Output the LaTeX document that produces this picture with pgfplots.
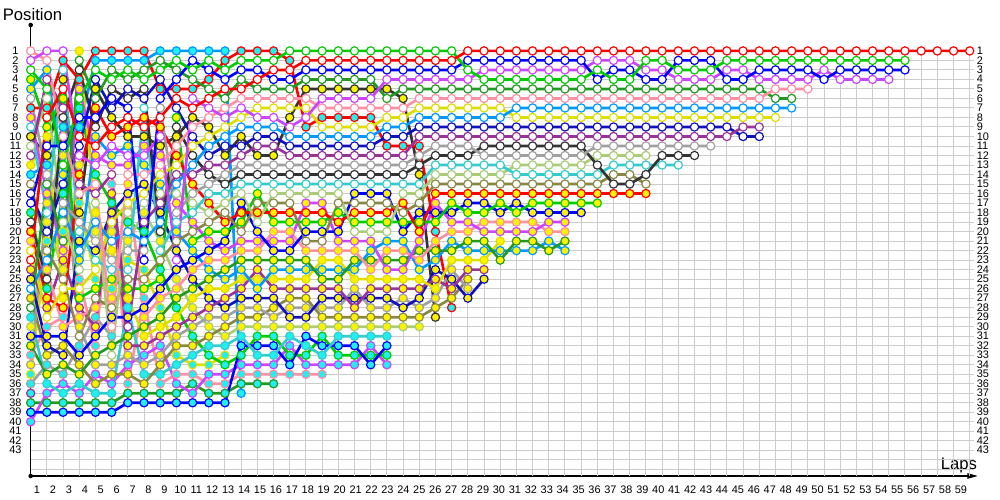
\documentclass[border=0pt]{standalone}
\usepackage{fontspec}
\setmainfont{Liberation Sans}
\usepackage{pgfplots}
\usepackage{pgfplotstable}
\pgfplotsset{compat=1.18}
\usetikzlibrary{arrows.meta}

\definecolor{cR}{HTML}{FF0000}
\definecolor{cG}{HTML}{00CC00}
\definecolor{cB}{HTML}{0000FF}
\definecolor{cV}{HTML}{CC44FF}
\definecolor{cP}{HTML}{FF8FA3}
\definecolor{cDG}{HTML}{229922}
\definecolor{cLB}{HTML}{0099FF}
\definecolor{cY}{HTML}{DDDD00}
\definecolor{cPU}{HTML}{993399}
\definecolor{cDB}{HTML}{1111BB}
\definecolor{cGR}{HTML}{A0A0A0}
\definecolor{cK}{HTML}{333333}
\definecolor{cT}{HTML}{33CCCC}
\definecolor{cLG}{HTML}{AACC77}
\definecolor{cOL}{HTML}{888844}
\definecolor{fW}{HTML}{FFFFFF}
\definecolor{fY}{HTML}{FFF200}
\definecolor{fC}{HTML}{22EEEE}
\definecolor{gridgray}{HTML}{CCCCCC}

\pgfplotstableread{
lap d1 d2 d3 d4 d5 d6 d7 d8 d9 d10 d11 d12 d13 d14 d15 d16 d17 d18 d19 d20 d21 d22 d23 d24 d25 d26 d27 d28 d29 d30 d31 d32 d33 d34 d35 d36 d37 d38 d39 d40
1 23 3 17 2 1 28 26 22 12 16 6 19 9 11 15 20 4 31 8 21 32 5 13 24 25 34 27 7 10 30 29 39 18 40 33 38 14 35 36 37
2 8 5 11 1 2 15 23 29 4 20 14 25 18 6 22 27 9 31 16 24 35 3 10 28 32 17 33 7 12 19 36 39 26 37 30 38 13 21 34 nan
3 5 13 11 1 10 21 18 26 7 15 17 8 3 19 25 28 6 31 22 30 34 14 27 23 33 12 32 2 4 24 37 39 16 36 29 38 9 20 35 nan
4 10 6 8 12 16 2 22 26 15 11 19 3 20 24 31 14 27 33 5 29 35 23 1 28 21 30 34 4 18 13 36 39 7 37 25 38 9 17 32 nan
5 11 3 8 13 15 6 19 24 16 4 21 9 23 17 27 7 26 31 12 28 33 10 18 30 22 34 36 1 5 20 37 39 14 35 32 38 2 25 29 nan
6 9 4 6 11 30 3 21 19 14 7 23 5 24 33 28 10 25 29 13 27 32 12 22 16 18 34 35 1 8 20 37 39 17 36 15 38 2 26 31 nan
7 8 3 7 12 14 4 20 17 30 5 22 6 24 18 25 9 26 29 13 15 31 11 27 32 16 33 35 1 10 21 28 38 19 34 36 37 2 23 nan nan
8 9 4 23 12 14 3 21 16 19 6 22 5 7 17 25 8 26 28 11 29 30 13 31 32 15 34 36 1 10 18 35 38 20 33 27 37 2 24 nan nan
9 8 3 6 10 13 2 19 14 17 4 7 20 22 16 23 9 25 26 12 27 29 15 30 31 18 33 34 5 11 21 35 38 24 32 36 37 1 28 nan nan
10 6 2 4 23 11 3 15 13 14 7 18 9 19 16 21 12 8 24 17 26 27 20 29 30 22 31 32 5 10 25 34 38 28 36 35 37 1 33 nan nan
11 7 3 2 6 9 4 13 11 14 10 16 12 18 17 20 15 21 23 19 24 26 22 27 29 25 30 32 5 8 28 33 38 31 37 35 36 1 34 nan nan
12 6 2 3 7 8 5 11 10 13 12 15 14 16 18 19 17 20 22 21 23 25 24 26 28 27 29 31 4 9 30 32 38 33 35 36 37 1 34 nan nan
13 5 3 4 8 7 6 10 9 13 11 14 15 16 17 18 19 20 21 22 23 24 25 26 27 28 29 30 2 12 31 32 38 34 35 36 37 1 33 nan nan
14 5 2 3 7 6 4 9 8 12 11 13 14 15 16 20 18 19 17 21 22 23 24 25 26 27 28 29 1 10 30 31 32 33 34 35 36 37 nan nan nan
15 4 2 3 8 6 5 9 7 11 10 13 14 15 19 17 18 16 20 21 22 23 26 25 24 27 28 29 1 12 30 33 32 31 34 35 36 nan nan nan nan
16 3 2 4 8 6 5 9 7 11 10 13 14 15 16 17 18 19 22 21 20 23 24 25 26 27 29 28 1 12 30 33 32 31 34 35 36 nan nan nan nan
17 3 1 4 9 6 5 10 7 12 11 13 14 15 16 17 18 19 22 21 20 23 24 25 26 29 28 27 2 8 30 31 34 33 32 35 nan nan nan nan nan
18 2 1 3 8 6 4 10 7 12 11 13 14 15 16 21 18 19 20 17 22 23 24 25 26 29 28 27 9 5 30 32 31 33 34 35 nan nan nan nan nan
19 2 1 3 6 7 4 10 9 12 11 13 14 15 16 21 18 19 20 17 22 25 24 23 26 27 28 29 8 5 30 33 32 31 34 35 nan nan nan nan nan
20 2 1 3 6 7 4 10 9 12 11 13 14 15 16 17 19 18 20 21 22 25 24 23 26 27 28 29 8 5 30 31 32 33 34 nan nan nan nan nan nan
21 2 1 3 6 7 4 10 9 12 11 13 14 15 20 17 18 19 16 21 22 23 24 25 28 27 26 29 8 5 30 31 32 33 34 nan nan nan nan nan nan
22 2 1 3 6 7 4 10 9 12 11 13 14 15 20 17 18 19 16 21 24 23 22 25 26 27 28 29 8 5 30 31 34 33 32 nan nan nan nan nan nan
23 2 1 3 4 7 6 9 8 12 10 13 14 15 20 17 18 19 16 24 22 23 21 25 26 27 28 29 11 5 30 31 32 33 34 nan nan nan nan nan nan
24 2 1 3 4 7 5 9 8 12 10 13 14 15 16 18 17 19 20 24 22 23 21 25 26 28 27 29 11 6 30 nan nan nan nan nan nan nan nan nan nan
25 2 1 3 4 6 5 8 7 10 9 12 13 15 16 17 20 19 18 21 23 22 24 25 26 27 28 29 11 14 30 nan nan nan nan nan nan nan nan nan nan
26 2 1 3 4 6 5 8 7 10 9 11 12 13 14 15 16 19 18 17 21 22 23 26 25 24 27 28 20 29 nan nan nan nan nan nan nan nan nan nan nan
27 2 1 3 4 6 5 8 7 10 9 11 12 13 14 15 16 17 18 19 20 22 21 23 26 25 24 27 28 nan nan nan nan nan nan nan nan nan nan nan nan
28 1 3 2 4 6 5 8 7 10 9 11 12 13 14 15 16 18 17 19 20 21 22 23 24 27 26 25 nan nan nan nan nan nan nan nan nan nan nan nan nan
29 1 4 2 3 6 5 8 7 10 9 12 11 13 14 15 16 18 17 20 19 21 22 23 24 25 nan nan nan nan nan nan nan nan nan nan nan nan nan nan nan
30 1 4 2 3 6 5 8 7 10 9 12 11 13 14 15 16 17 18 20 19 23 22 21 nan nan nan nan nan nan nan nan nan nan nan nan nan nan nan nan nan
31 1 4 2 3 6 5 7 8 10 9 12 11 14 13 15 16 18 17 20 19 21 22 nan nan nan nan nan nan nan nan nan nan nan nan nan nan nan nan nan nan
32 1 4 2 3 6 5 7 8 10 9 12 11 14 13 15 16 17 18 20 19 21 22 nan nan nan nan nan nan nan nan nan nan nan nan nan nan nan nan nan nan
33 1 4 2 3 6 5 7 8 10 9 12 11 14 13 15 16 17 18 19 20 22 21 nan nan nan nan nan nan nan nan nan nan nan nan nan nan nan nan nan nan
34 1 4 2 3 6 5 7 8 10 9 12 11 14 13 15 16 17 18 19 20 21 22 nan nan nan nan nan nan nan nan nan nan nan nan nan nan nan nan nan nan
35 1 4 2 3 6 5 7 8 10 9 12 11 14 13 15 16 17 18 nan nan nan nan nan nan nan nan nan nan nan nan nan nan nan nan nan nan nan nan nan nan
36 1 3 4 2 6 5 7 8 10 9 11 13 14 12 15 16 17 nan nan nan nan nan nan nan nan nan nan nan nan nan nan nan nan nan nan nan nan nan nan nan
37 1 4 3 2 6 5 7 8 10 9 11 15 13 12 14 16 nan nan nan nan nan nan nan nan nan nan nan nan nan nan nan nan nan nan nan nan nan nan nan nan
38 1 4 3 2 6 5 7 8 10 9 11 15 13 12 14 16 nan nan nan nan nan nan nan nan nan nan nan nan nan nan nan nan nan nan nan nan nan nan nan nan
39 1 2 4 3 6 5 7 8 10 9 11 14 13 12 15 16 nan nan nan nan nan nan nan nan nan nan nan nan nan nan nan nan nan nan nan nan nan nan nan nan
40 1 2 4 3 6 5 7 8 10 9 11 12 13 nan nan nan nan nan nan nan nan nan nan nan nan nan nan nan nan nan nan nan nan nan nan nan nan nan nan nan
41 1 3 2 4 6 5 7 8 10 9 11 12 13 nan nan nan nan nan nan nan nan nan nan nan nan nan nan nan nan nan nan nan nan nan nan nan nan nan nan nan
42 1 3 2 4 6 5 7 8 10 9 11 12 nan nan nan nan nan nan nan nan nan nan nan nan nan nan nan nan nan nan nan nan nan nan nan nan nan nan nan nan
43 1 3 2 4 6 5 7 8 10 9 11 nan nan nan nan nan nan nan nan nan nan nan nan nan nan nan nan nan nan nan nan nan nan nan nan nan nan nan nan nan
44 1 2 4 3 6 5 7 8 10 9 nan nan nan nan nan nan nan nan nan nan nan nan nan nan nan nan nan nan nan nan nan nan nan nan nan nan nan nan nan nan
45 1 2 4 3 6 5 7 8 9 10 nan nan nan nan nan nan nan nan nan nan nan nan nan nan nan nan nan nan nan nan nan nan nan nan nan nan nan nan nan nan
46 1 2 3 4 6 5 7 8 9 10 nan nan nan nan nan nan nan nan nan nan nan nan nan nan nan nan nan nan nan nan nan nan nan nan nan nan nan nan nan nan
47 1 2 3 4 5 6 7 8 nan nan nan nan nan nan nan nan nan nan nan nan nan nan nan nan nan nan nan nan nan nan nan nan nan nan nan nan nan nan nan nan
48 1 2 3 4 5 6 7 nan nan nan nan nan nan nan nan nan nan nan nan nan nan nan nan nan nan nan nan nan nan nan nan nan nan nan nan nan nan nan nan nan
49 1 2 3 4 5 nan nan nan nan nan nan nan nan nan nan nan nan nan nan nan nan nan nan nan nan nan nan nan nan nan nan nan nan nan nan nan nan nan nan nan
50 1 2 4 3 nan nan nan nan nan nan nan nan nan nan nan nan nan nan nan nan nan nan nan nan nan nan nan nan nan nan nan nan nan nan nan nan nan nan nan nan
51 1 2 3 4 nan nan nan nan nan nan nan nan nan nan nan nan nan nan nan nan nan nan nan nan nan nan nan nan nan nan nan nan nan nan nan nan nan nan nan nan
52 1 2 3 4 nan nan nan nan nan nan nan nan nan nan nan nan nan nan nan nan nan nan nan nan nan nan nan nan nan nan nan nan nan nan nan nan nan nan nan nan
53 1 2 3 4 nan nan nan nan nan nan nan nan nan nan nan nan nan nan nan nan nan nan nan nan nan nan nan nan nan nan nan nan nan nan nan nan nan nan nan nan
54 1 2 3 4 nan nan nan nan nan nan nan nan nan nan nan nan nan nan nan nan nan nan nan nan nan nan nan nan nan nan nan nan nan nan nan nan nan nan nan nan
55 1 2 3 nan nan nan nan nan nan nan nan nan nan nan nan nan nan nan nan nan nan nan nan nan nan nan nan nan nan nan nan nan nan nan nan nan nan nan nan nan
56 1 nan nan nan nan nan nan nan nan nan nan nan nan nan nan nan nan nan nan nan nan nan nan nan nan nan nan nan nan nan nan nan nan nan nan nan nan nan nan nan
57 1 nan nan nan nan nan nan nan nan nan nan nan nan nan nan nan nan nan nan nan nan nan nan nan nan nan nan nan nan nan nan nan nan nan nan nan nan nan nan nan
58 1 nan nan nan nan nan nan nan nan nan nan nan nan nan nan nan nan nan nan nan nan nan nan nan nan nan nan nan nan nan nan nan nan nan nan nan nan nan nan nan
59 1 nan nan nan nan nan nan nan nan nan nan nan nan nan nan nan nan nan nan nan nan nan nan nan nan nan nan nan nan nan nan nan nan nan nan nan nan nan nan nan
}\laps

\newcommand{\drv}[3]{%
  \addplot[color=#2, line width=2pt, line join=round, mark=*, mark size=3.1pt,
    mark options={solid, fill=#3, draw=#2, line width=0.9pt}]
    table[x=lap, y=#1] {\laps};}

\begin{document}
\begin{tikzpicture}
\useasboundingbox (-23.025pt,-18pt) rectangle (726.975pt,357pt);
\begin{scope}[shift={(-23.025pt,357pt)}, x=0.75pt, y=-0.75pt]
  \draw[line width=1.1pt] (30.7,476) -- (30.7,25);
  \fill (30.7,25) circle[radius=1.7pt];
  \fill (30.7,476) circle[radius=1.7pt];
  \draw[line width=1.1pt, -{Triangle[length=8pt,width=4pt]}] (30.7,476) -- (978,476);
  \node[font=\fontsize{12.5}{14}\selectfont, anchor=base, inner sep=0pt] at (32.5,21) {Position};
  \node[font=\fontsize{12.5}{14}\selectfont, anchor=base, inner sep=0pt] at (959,469.3) {Laps};
  \foreach \k in {1,...,59}
    \node[font=\fontsize{8.2}{9}\selectfont, anchor=base, inner sep=0pt] at ({37+(\k-1)*15.93},493.3) {\k};
  \foreach \p in {1,...,43} {
    \node[font=\fontsize{8.2}{9}\selectfont, inner sep=0pt] at (15.5,{50.7+(\p-1)*9.51}) {\p};
    \node[font=\fontsize{8.2}{9}\selectfont, anchor=west, inner sep=0pt] at (976.5,{50.7+(\p-1)*9.51}) {\p};
  }
\end{scope}
\begin{axis}[
  at={(0pt,0pt)}, anchor=south west,
  x=12.1425pt, y=7.1325pt, y dir=reverse,
  xmin=1, xmax=59.27, ymin=1, ymax=45.7,
  axis line style={draw=none},
  xtick={2,...,59}, ytick={1,...,45},
  xticklabels={}, yticklabels={},
  major tick length=0pt,
  grid=major, major grid style={draw=gridgray, line width=0.75pt},
  clip=false,
  unbounded coords=discard,
]
\drv{d40}{cPU}{fC}
\drv{d39}{cGR}{fC}
\drv{d38}{cY}{fC}
\drv{d37}{cLB}{fC}
\drv{d36}{cDG}{fC}
\drv{d35}{cP}{fC}
\drv{d34}{cV}{fC}
\drv{d33}{cG}{fC}
\drv{d32}{cB}{fC}
\drv{d31}{cT}{fC}
\drv{d30}{cLG}{fY}
\drv{d29}{cK}{fY}
\drv{d28}{cR}{fC}
\drv{d27}{cOL}{fY}
\drv{d26}{cGR}{fY}
\drv{d25}{cDB}{fY}
\drv{d24}{cPU}{fY}
\drv{d23}{cY}{fY}
\drv{d22}{cLB}{fY}
\drv{d21}{cDG}{fY}
\drv{d20}{cP}{fY}
\drv{d19}{cV}{fY}
\drv{d18}{cB}{fY}
\drv{d17}{cG}{fY}
\drv{d16}{cR}{fY}
\drv{d15}{cOL}{fW}
\drv{d14}{cLG}{fW}
\drv{d13}{cT}{fW}
\drv{d12}{cK}{fW}
\drv{d11}{cGR}{fW}
\drv{d10}{cDB}{fW}
\drv{d9}{cPU}{fW}
\drv{d8}{cY}{fW}
\drv{d7}{cLB}{fW}
\drv{d6}{cDG}{fW}
\drv{d5}{cP}{fW}
\drv{d4}{cV}{fW}
\drv{d3}{cB}{fW}
\drv{d2}{cG}{fW}
\drv{d1}{cR}{fW}
\end{axis}
\end{tikzpicture}
\end{document}
